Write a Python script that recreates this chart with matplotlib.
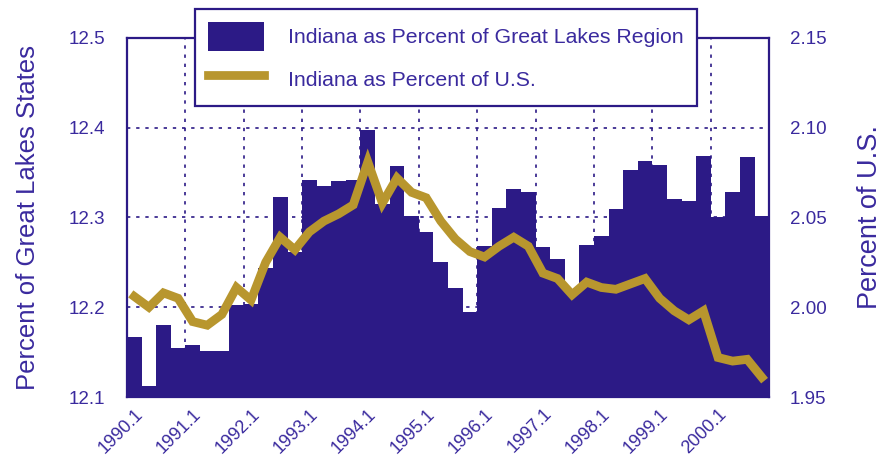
import numpy as np
import matplotlib
matplotlib.use("Agg")
import matplotlib.pyplot as plt
from matplotlib.patches import Patch
from matplotlib.lines import Line2D

plt.rcParams['font.family'] = ['Liberation Sans', 'DejaVu Sans']

# ============================================================
# DATA (quarterly, 1990.1 - 2000.4)
# ============================================================

quarters = [f"{y}.{q}" for y in range(1990, 2001) for q in range(1, 5)]
tick_labels = [f"{y}.1" for y in range(1990, 2001)]

great_lakes_pct = [
    12.167, 12.112, 12.180, 12.155, 12.158, 12.151, 12.151, 12.203,
    12.204, 12.244, 12.323, 12.262, 12.342, 12.335, 12.341, 12.342,
    12.398, 12.315, 12.357, 12.302, 12.284, 12.250, 12.222, 12.195,
    12.268, 12.311, 12.332, 12.328, 12.267, 12.254, 12.220, 12.269,
    12.279, 12.310, 12.353, 12.363, 12.359, 12.321, 12.318, 12.369,
    12.300, 12.328, 12.367, 12.302,
]

us_pct = [
    2.006, 2.000, 2.008, 2.005, 1.992, 1.990, 1.996, 2.011,
    2.004, 2.025, 2.039, 2.032, 2.042, 2.048, 2.052, 2.057,
    2.081, 2.058, 2.072, 2.064, 2.061, 2.048, 2.038, 2.031,
    2.028, 2.034, 2.039, 2.034, 2.019, 2.016, 2.007, 2.014,
    2.011, 2.010, 2.013, 2.016, 2.005, 1.998, 1.993, 1.998,
    1.972, 1.970, 1.971, 1.961,
]

# ============================================================
# STYLE
# ============================================================

NAVY = '#2c1a86'
GOLD = '#b8962e'
TEXT = '#3a2a9e'

x = np.arange(len(quarters))

fig = plt.figure(figsize=(8.82, 4.63), dpi=100)
ax = fig.add_axes([0.144, 0.1425, 0.728, 0.7755])

ax.bar(x, np.array(great_lakes_pct) - 12.1, bottom=12.1, width=1.0,
       color=NAVY, linewidth=0, zorder=2)

ax.set_xlim(-0.5, len(quarters) - 0.5)
ax.set_ylim(12.1, 12.5)
ax.set_yticks([12.1, 12.2, 12.3, 12.4, 12.5])
ax.set_yticklabels(['12.1', '12.2', '12.3', '12.4', '12.5'])
ax.set_xticks(x[::4])
ax.set_xticklabels(tick_labels, rotation=45, ha='right', rotation_mode='anchor')

# dotted grid behind the bars
for yv in [12.2, 12.3, 12.4]:
    ax.axhline(yv, color=NAVY, lw=1.2, ls=(0, (2, 3.5)), zorder=1)
for xv in np.arange(3.5, len(quarters) - 1, 4):
    ax.axvline(xv, color=NAVY, lw=1.2, ls=(0, (2, 3.5)), zorder=1)

for spine in ax.spines.values():
    spine.set_color(NAVY)
    spine.set_linewidth(1.6)

ax.tick_params(axis='y', length=0, pad=16, labelsize=13.5, labelcolor=TEXT)
ax.tick_params(axis='x', length=0, pad=6, labelsize=13, labelcolor=TEXT)
ax.set_ylabel('Percent of Great Lakes States', fontsize=18.5, color=TEXT, labelpad=20)

ax2 = ax.twinx()
ax2.plot(x, us_pct, color=GOLD, lw=6.3, solid_joinstyle='miter', zorder=3)
ax2.set_ylim(1.95, 2.15)
ax2.set_yticks([1.95, 2.00, 2.05, 2.10, 2.15])
ax2.set_yticklabels(['1.95', '2.00', '2.05', '2.10', '2.15'])
ax2.tick_params(axis='y', length=0, pad=15, labelsize=13.5, labelcolor=TEXT)
ax2.set_ylabel('Percent of U.S.', fontsize=19.5, color=TEXT, labelpad=22)
for spine in ax2.spines.values():
    spine.set_visible(False)

# ============================================================
# LEGEND
# ============================================================

handles = [Patch(facecolor=NAVY, edgecolor='none'),
           Line2D([0], [0], color=GOLD, lw=6.3)]
labels = ['Indiana as Percent of Great Lakes Region', 'Indiana as Percent of U.S.']
leg = fig.legend(handles, labels, loc='upper left', bbox_to_anchor=(0.221, 0.981),
                 fontsize=15.3, frameon=True, fancybox=False, framealpha=1,
                 handlelength=2.65, handleheight=1.72, handletextpad=1.15,
                 labelspacing=0.66, borderpad=0.6, borderaxespad=0)
leg.get_frame().set_edgecolor(NAVY)
leg.get_frame().set_linewidth(1.6)
for t in leg.get_texts():
    t.set_color(TEXT)

fig.savefig('out.png', dpi=100, facecolor='white')
